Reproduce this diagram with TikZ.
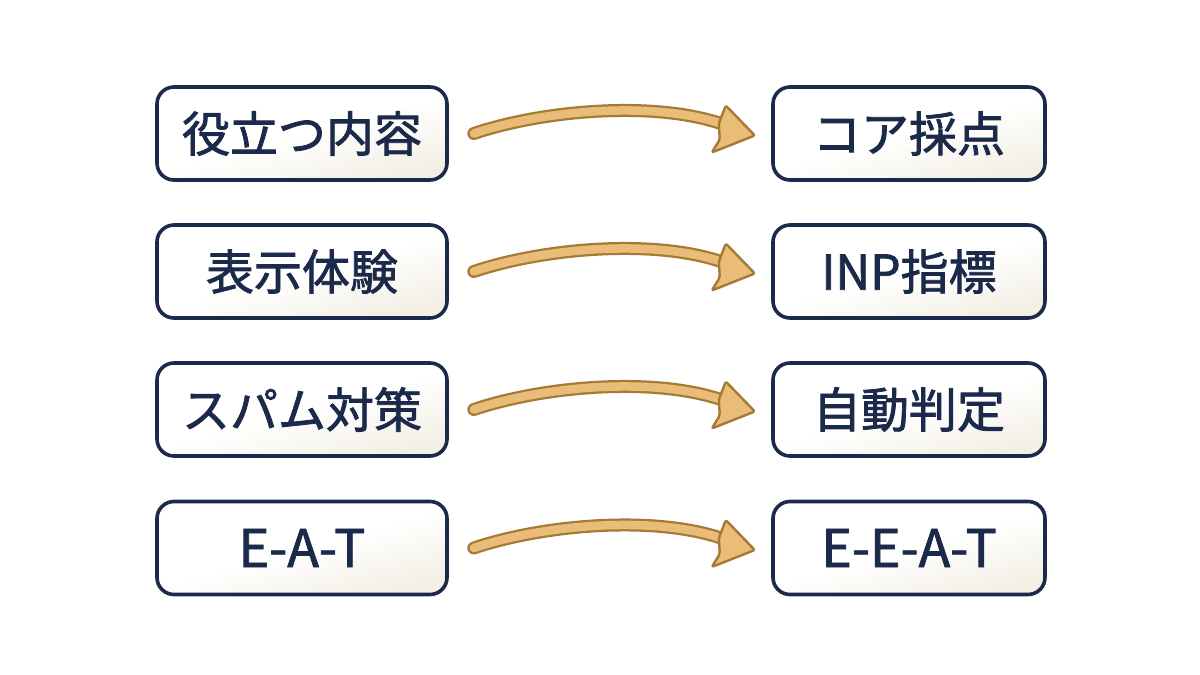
\documentclass[tikz,border=0pt]{standalone}
\usepackage{fontspec}
\newfontfamily\jp{Noto Sans CJK JP}[FakeBold=1.6]
\usetikzlibrary{calc}
\definecolor{navy}{HTML}{1B2A4A}
\definecolor{tan}{HTML}{E9BD78}
\definecolor{brownline}{HTML}{A57A35}
\definecolor{wash}{HTML}{F3EFE5}
\tikzset{
  box/.style={draw=navy, line width=3.6pt, rounded corners=17pt,
    top color=white, bottom color=wash, middle color=white, shading angle=15,
    minimum height=93pt, text=navy, inner sep=0pt,
    font=\jp\fontsize{48}{52}\selectfont},
  lbox/.style={box, minimum width=290pt},
  rbox/.style={box, minimum width=272pt},
  shaftout/.style={draw=brownline, line width=13pt, line cap=round},
  shaftin/.style={draw=tan, line width=8.5pt, line cap=round},
  head/.style={fill=tan, draw=brownline, line width=2.4pt, line join=round, rounded corners=2pt}
}
\newcommand{\curvearrow}[2]{%
  \begin{scope}[shift={(#1.east)}]
    \draw[shaftout] (25,0) .. controls (93,-23) and (203,-33) .. (272,-10);
    \draw[shaftin] (25,0) .. controls (93,-23) and (203,-33) .. (272,-10);
    \filldraw[head] (270,-10) -- (277,-28) -- (306,2) -- (263,19) -- (271,6) -- cycle;
  \end{scope}}
\begin{document}
\begin{tikzpicture}[x=1pt,y=-1pt]
\useasboundingbox[fill=white] (0,0) rectangle (1200,675);
\node[lbox] (L1) at (302,133.5) {役立つ内容};
\node[rbox] (R1) at (909,133.5) {コア採点};
\node[lbox] (L2) at (302,271.5) {表示体験};
\node[rbox] (R2) at (909,271.5) {INP指標};
\node[lbox] (L3) at (302,409.5) {スパム対策};
\node[rbox] (R3) at (909,409.5) {自動判定};
\node[lbox, font=\jp\fontsize{52}{56}\selectfont] (L4) at (302,548) {E-A-T};
\node[rbox, font=\jp\fontsize{52}{56}\selectfont] (R4) at (909,548) {E-E-A-T};
\curvearrow{L1}{R1}
\curvearrow{L2}{R2}
\curvearrow{L3}{R3}
\curvearrow{L4}{R4}
\end{tikzpicture}
\end{document}
